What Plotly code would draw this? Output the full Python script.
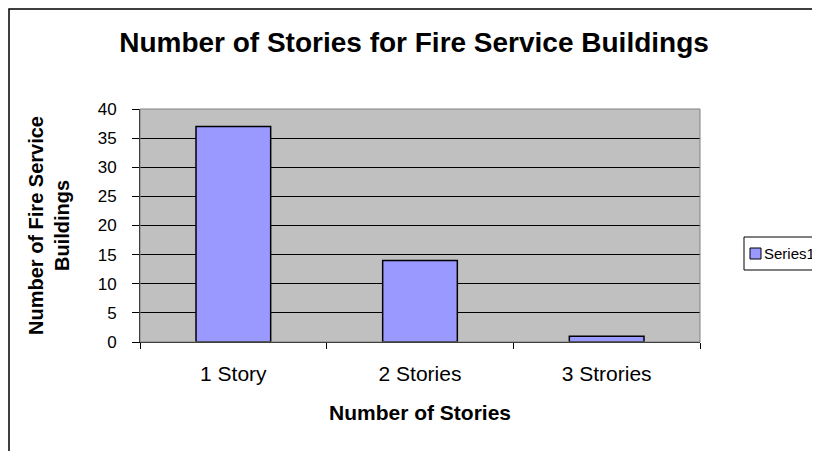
import plotly.graph_objects as go

# data
categories = ["1 Story", "2 Stories", "3 Strories"]
buildings = [37, 14, 1]
series_name = "Series1"

y_ticks = list(range(0, 45, 5))

FONT = "Liberation Sans, Arial, Helvetica, sans-serif"
BAR_COLOR = "#9999FF"

# the page body adds an 8px margin, so the layout is nudged up/left by that much
fig = go.Figure()
fig.add_trace(go.Bar(
    x=categories, y=buildings, name=series_name, width=0.4,
    marker=dict(color=BAR_COLOR, line=dict(color="#000000", width=1.5)),
    showlegend=False,
))

fig.update_layout(
    width=820, height=451,
    paper_bgcolor="#FFFFFF",
    plot_bgcolor="#C0C0C0",
    margin=dict(l=132, r=128, t=101, b=117, autoexpand=False),
    font=dict(family=FONT, size=16, color="#000000"),
    title=dict(
        text="<b>Number of Stories for Fire Service Buildings</b>",
        font=dict(size=28, family=FONT, color="#000000"),
        x=406 / 820, xanchor="center", xref="container",
        y=1 - 34 / 451, yanchor="middle", yref="container",
    ),
    showlegend=False,
    bargap=0.6,
    xaxis=dict(
        type="category",
        tickson="boundaries",
        ticks="outside", ticklen=6, tickcolor="#000000", tickwidth=1,
        showgrid=False,
        showline=True, linecolor="#000000", linewidth=1,
        ticklabelstandoff=13,
        tickfont=dict(size=21, family=FONT),
        title=dict(text="<b>Number of Stories</b>", font=dict(size=21, family=FONT), standoff=21),
    ),
    yaxis=dict(
        range=[0, 40],
        tickvals=y_ticks,
        ticks="outside", ticklen=7, tickcolor="#000000", tickwidth=1,
        showgrid=True, gridcolor="#000000", gridwidth=1,
        zeroline=False,
        showline=True, linecolor="#000000", linewidth=1,
        ticklabelstandoff=12,
        tickfont=dict(size=17, family=FONT),
        title=dict(text="<b>Number of Fire Service<br>Buildings</b>", font=dict(size=20, family=FONT), standoff=22),
    ),
    shapes=[
        # plot area border
        dict(type="rect", xref="paper", yref="paper", x0=0, x1=1, y0=0, y1=1,
             line=dict(color="#808080", width=1), layer="above"),
        # chart area border (right and bottom fall outside the picture)
        dict(type="rect", xref="paper", yref="paper",
             xsizemode="pixel", xanchor=0, x0=-131, x1=1000,
             ysizemode="pixel", yanchor=1, y0=-1000, y1=100,
             line=dict(color="#000000", width=1.5)),
        # legend box, cut by the right edge like the reference
        dict(type="rect", xref="paper", yref="paper",
             xsizemode="pixel", xanchor=1, x0=44, x1=300,
             ysizemode="pixel", yanchor=0, y0=72, y1=105,
             line=dict(color="#000000", width=1), fillcolor="#FFFFFF"),
        # legend key
        dict(type="rect", xref="paper", yref="paper",
             xsizemode="pixel", xanchor=1, x0=50, x1=61,
             ysizemode="pixel", yanchor=0, y0=83, y1=94,
             line=dict(color="#000000", width=1), fillcolor=BAR_COLOR),
    ],
    annotations=[
        dict(text=series_name, xref="paper", yref="paper", x=1, y=0,
             xshift=62, yshift=89, xanchor="left", yanchor="middle",
             showarrow=False, font=dict(size=15, family=FONT)),
    ],
)

fig.write_html("out.html")
